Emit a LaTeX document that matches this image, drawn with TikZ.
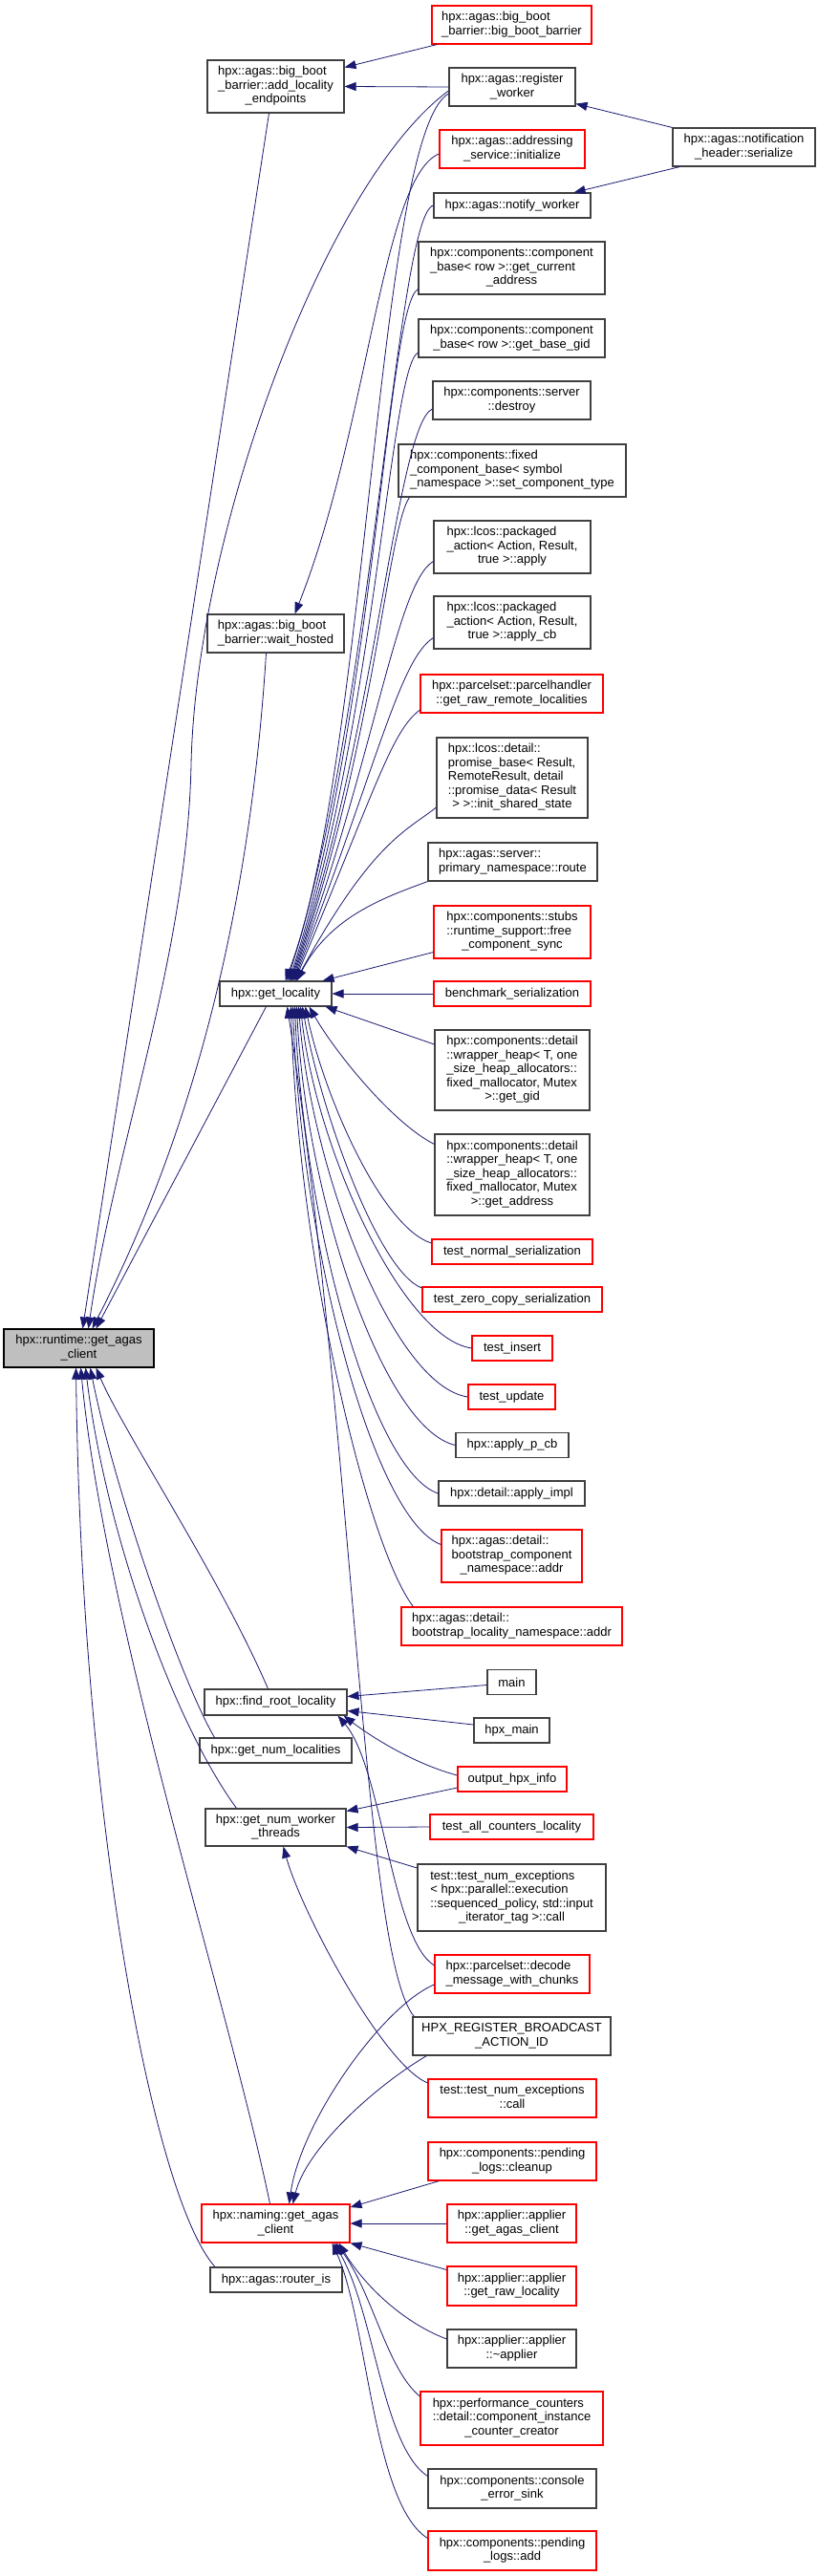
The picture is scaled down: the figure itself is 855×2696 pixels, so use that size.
\documentclass[tikz,border=0pt]{standalone}
\usepackage{fontspec}
\setmainfont{Liberation Sans}
\usetikzlibrary{arrows.meta}
\definecolor{edgec}{HTML}{191970}
\definecolor{boxk}{HTML}{404040}
\definecolor{boxr}{HTML}{FF0000}
\definecolor{mainfill}{HTML}{BFBFBF}
\newcommand\lbl[1]{\begin{tabular}{@{}l@{}}#1\end{tabular}}
\newcommand\cl[1]{\multicolumn{1}{@{}c@{}}{#1}}
\begin{document}
\begin{tikzpicture}[x=1pt,y=-1pt,
  box/.style={draw=boxk, line width=1.1pt, fill=white, inner sep=0pt, font=\fontsize{13}{14.5}\selectfont, anchor=center},
  rbox/.style={box, draw=boxr},
  mbox/.style={box, draw=black, fill=mainfill},
  edge/.style={draw=edgec, line width=0.8pt, -{Triangle[length=12pt,width=9pt]}},
  sz/.style 2 args={minimum width=#1, minimum height=#2}]
\useasboundingbox (0,0) rectangle (855,2696);
% nodes
\node[rbox, sz={167}{40}] (bbb) at (535.5,26) {\lbl{hpx::agas::big\_boot\\\cl{\_barrier::big\_boot\_barrier}}};
\node[box, sz={143}{55}] (ale) at (288.5,90.5) {\lbl{hpx::agas::big\_boot\\\_barrier::add\_locality\\\cl{\_endpoints}}};
\node[box, sz={132}{40}] (rw) at (536,91) {\lbl{hpx::agas::register\\\cl{\_worker}}};
\node[rbox, sz={152}{40}] (addr) at (536,156) {\lbl{hpx::agas::addressing\\\cl{\_service::initialize}}};
\node[box, sz={149}{40}] (nhs) at (778.5,154) {\lbl{hpx::agas::notification\\\cl{\_header::serialize}}};
\node[box, sz={164}{26}] (nw) at (536,215) {hpx::agas::notify\_worker};
\node[box, sz={195}{55}] (cbc) at (535.5,280.5) {\lbl{hpx::components::component\\\_base< row >::get\_current\\\cl{\_address}}};
\node[box, sz={195}{40}] (cbg) at (535.5,354) {\lbl{hpx::components::component\\\cl{\_base< row >::get\_base\_gid}}};
\node[box, sz={165}{40}] (destroy) at (535.5,419) {\lbl{hpx::components::server\\\cl{::destroy}}};
\node[box, sz={238}{55}] (fixed) at (536,492.5) {\lbl{hpx::components::fixed\\\_component\_base< symbol\\\cl{\_namespace >::set\_component\_type}}};
\node[box, sz={164}{55}] (paa) at (536,572.5) {\lbl{hpx::lcos::packaged\\\_action< Action, Result,\\\cl{true >::apply}}};
\node[box, sz={164}{55}] (pacb) at (536,651.5) {\lbl{hpx::lcos::packaged\\\_action< Action, Result,\\\cl{true >::apply\_cb}}};
\node[box, sz={143}{40}] (wh) at (288.5,663) {\lbl{hpx::agas::big\_boot\\\cl{\_barrier::wait\_hosted}}};
\node[rbox, sz={191}{40}] (ph) at (535.5,726) {\lbl{hpx::parcelset::parcelhandler\\\cl{::get\_raw\_remote\_localities}}};
\node[box, sz={158}{84}] (pb) at (536,814) {\lbl{hpx::lcos::detail::\\promise\_base< Result,\\ RemoteResult, detail\\::promise\_data< Result\\\cl{> >::init\_shared\_state}}};
\node[box, sz={177}{40}] (route) at (536.5,902) {\lbl{hpx::agas::server::\\\cl{primary\_namespace::route}}};
\node[rbox, sz={164}{55}] (stubs) at (536,975.5) {\lbl{hpx::components::stubs\\::runtime\_support::free\\\cl{\_component\_sync}}};
\node[rbox, sz={164}{26}] (bench) at (536,1040) {benchmark\_serialization};
\node[box, sz={117}{26}] (gl) at (288.5,1040) {hpx::get\_locality};
\node[box, sz={162}{84}] (whg) at (536,1120) {\lbl{hpx::components::detail\\::wrapper\_heap< T, one\\\_size\_heap\_allocators::\\fixed\_mallocator, Mutex\\\cl{>::get\_gid}}};
\node[box, sz={162}{85}] (wha) at (536,1229.5) {\lbl{hpx::components::detail\\::wrapper\_heap< T, one\\\_size\_heap\_allocators::\\fixed\_mallocator, Mutex\\\cl{>::get\_address}}};
\node[rbox, sz={168}{26}] (tns) at (536,1310) {test\_normal\_serialization};
\node[rbox, sz={188}{26}] (tzc) at (536,1360) {test\_zero\_copy\_serialization};
\node[mbox, sz={157}{40}] (gac) at (82.5,1411) {\lbl{hpx::runtime::get\_agas\\\cl{\_client}}};
\node[rbox, sz={84}{26}] (ti) at (536,1411) {test\_insert};
\node[rbox, sz={91}{26}] (tu) at (535.5,1462) {test\_update};
\node[box, sz={118}{26}] (apc) at (536,1512.5) {hpx::apply\_p\_cb};
\node[box, sz={153}{26}] (ai) at (535.5,1563) {hpx::detail::apply\_impl};
\node[rbox, sz={147}{55}] (bcn) at (535.5,1628.5) {\lbl{hpx::agas::detail::\\bootstrap\_component\\\cl{\_namespace::addr}}};
\node[rbox, sz={231}{40}] (bln) at (535.5,1702) {\lbl{hpx::agas::detail::\\\cl{bootstrap\_locality\_namespace::addr}}};
\node[box, sz={51}{26}] (main) at (535.5,1760.5) {main};
\node[box, sz={149}{27}] (frl) at (288.5,1781.5) {hpx::find\_root\_locality};
\node[box, sz={79}{26}] (hm) at (535.5,1811) {hpx\_main};
\node[box, sz={159}{26}] (gnl) at (288.5,1832) {hpx::get\_num\_localities};
\node[rbox, sz={114}{26}] (ohi) at (536,1862) {output\_hpx\_info};
\node[box, sz={147}{39}] (gnwt) at (288.5,1912.5) {\lbl{hpx::get\_num\_worker\\\cl{\_threads}}};
\node[rbox, sz={171}{26}] (tac) at (535.5,1912) {test\_all\_counters\_locality};
\node[box, sz={197}{70}] (tnet) at (535.5,1986) {\lbl{test::test\_num\_exceptions\\< hpx::parallel::execution\\::sequenced\_policy, std::input\\\cl{\_iterator\_tag >::call}}};
\node[rbox, sz={162}{40}] (dmc) at (536,2066) {\lbl{hpx::parcelset::decode\\\cl{\_message\_with\_chunks}}};
\node[box, sz={207}{40}] (hrb) at (535.5,2131) {\lbl{HPX\_REGISTER\_BROADCAST\\\cl{\_ACTION\_ID}}};
\node[rbox, sz={176}{40}] (tnc) at (536,2196) {\lbl{test::test\_num\_exceptions\\\cl{::call}}};
\node[rbox, sz={176}{40}] (plc) at (536,2262) {\lbl{hpx::components::pending\\\cl{\_logs::cleanup}}};
\node[rbox, sz={155}{40}] (ngac) at (288.5,2327) {\lbl{hpx::naming::get\_agas\\\cl{\_client}}};
\node[rbox, sz={135}{40}] (agac) at (535.5,2327) {\lbl{hpx::applier::applier\\\cl{::get\_agas\_client}}};
\node[box, sz={138}{26}] (ris) at (289,2386) {hpx::agas::router\_is};
\node[rbox, sz={135}{41}] (agrl) at (535.5,2392.5) {\lbl{hpx::applier::applier\\\cl{::get\_raw\_locality}}};
\node[box, sz={135}{40}] (aa) at (535.5,2458) {\lbl{hpx::applier::applier\\\cl{::\textasciitilde applier}}};
\node[rbox, sz={191}{56}] (pcc) at (535.5,2531) {\lbl{hpx::performance\_counters\\::detail::component\_instance\\\cl{\_counter\_creator}}};
\node[box, sz={176}{41}] (ces) at (536,2604.5) {\lbl{hpx::components::console\\\cl{\_error\_sink}}};
\node[rbox, sz={176}{41}] (pla) at (536,2669.5) {\lbl{hpx::components::pending\\\cl{\_logs::add}}};
% edges: top
\draw[edge] ([xshift=6]bbb.south west) -- ([yshift=20]ale.east);
\draw[edge] (rw.west) -- (ale.east);
\draw[edge] (nhs.north west) -- ([yshift=3]rw.south east);
\draw[edge] ([xshift=8]nhs.south west) -- ([xshift=-18]nw.north east);
\draw[edge] ([xshift=-7]ale.south) -- ([xshift=4]gac.north);
\draw[edge] ([yshift=-4]rw.west) .. controls (340,190) and (205,560) .. (200,800) .. controls (196,1000) and (120,1200) .. ([xshift=10]gac.north);
\draw[edge] ([yshift=-7]rw.west) .. controls (395,140) and (385,800) .. ([xshift=10]gl.north);
\draw[edge] ([yshift=-5]addr.west) .. controls (400,185) and (385,450) .. ([xshift=20]wh.north);
\draw[edge] (nw.west) .. controls (415,225) and (390,750) .. ([xshift=12]gl.north);
\draw[edge] ([yshift=-22]cbc.west) .. controls (405,320) and (392,750) .. ([xshift=14]gl.north);
\draw[edge] ([yshift=-15]cbg.west) .. controls (408,385) and (393,760) .. ([xshift=15]gl.north);
\draw[edge] ([yshift=-9]destroy.west) .. controls (415,445) and (393,770) .. ([xshift=16]gl.north);
\draw[edge] ([xshift=12]fixed.south west) .. controls (405,555) and (392,780) .. ([xshift=17]gl.north);
\draw[edge] ([yshift=-15]paa.west) .. controls (415,610) and (393,790) .. ([xshift=18]gl.north);
\draw[edge] ([yshift=-16]pacb.west) .. controls (418,690) and (395,800) .. ([xshift=19]gl.north);
\draw[edge] ([yshift=-17]ph.west) .. controls (410,765) and (395,820) .. ([xshift=20]gl.north);
\draw[edge] ([yshift=-31]pb.west) .. controls (425,870) and (390,880) .. ([xshift=21]gl.north);
\draw[edge] (route.south west) .. controls (400,940) and (345,960) .. ([xshift=22]gl.north);
\draw[edge] ([yshift=-21]stubs.west) -- ([xshift=-10]gl.north east);
\draw[edge] (bench.west) -- (gl.east);
% edges: below get_locality
\draw[edge] ([yshift=27]whg.west) -- ([xshift=-7]gl.south east);
\draw[edge] ([yshift=32]wha.west) .. controls (410,1175) and (350,1100) .. ([xshift=35]gl.south);
\draw[edge] ([yshift=9]tns.west) .. controls (400,1285) and (340,1150) .. ([xshift=31]gl.south);
\draw[edge] ([yshift=12]tzc.west) .. controls (395,1330) and (335,1160) .. ([xshift=28]gl.south);
\draw[edge] (ti.west) .. controls (420,1400) and (330,1200) .. ([xshift=26]gl.south);
\draw[edge] (tu.west) .. controls (410,1450) and (325,1220) .. ([xshift=24]gl.south);
\draw[edge] (apc.west) .. controls (400,1495) and (320,1250) .. ([xshift=22]gl.south);
\draw[edge] (ai.west) .. controls (390,1540) and (318,1280) .. ([xshift=20]gl.south);
\draw[edge] ([yshift=12]bcn.west) .. controls (390,1590) and (315,1300) .. ([xshift=18]gl.south);
\draw[edge] ([xshift=13]bln.north west) .. controls (385,1620) and (312,1320) .. ([xshift=16]gl.south);
\draw[edge] ([xshift=2]hrb.north west) .. controls (380,2050) and (370,1500) .. ([xshift=12]gl.south);
% find_root_locality, get_num_worker_threads
\draw[edge] ([yshift=9]dmc.west) .. controls (410,2030) and (400,1850) .. ([xshift=-10]frl.south east);
\draw[edge] ([yshift=4]ohi.west) .. controls (430,1845) and (385,1815) .. ([xshift=-4]frl.south east);
\draw[edge] ([yshift=-3]main.west) -- ([yshift=6]frl.east);
\draw[edge] ([yshift=6]hm.west) -- ([yshift=-9]frl.east);
\draw[edge] ([yshift=-9]ohi.west) -- ([yshift=17]gnwt.east);
\draw[edge] (tac.west) -- (gnwt.east);
\draw[edge] ([yshift=31]tnet.west) -- (gnwt.south east);
\draw[edge] ([yshift=16]tnc.west) .. controls (400,2160) and (315,2000) .. ([xshift=8]gnwt.south);
% naming::get_agas_client
\draw[edge] ([yshift=-11]dmc.west) .. controls (400,2100) and (315,2220) .. ([xshift=14]ngac.north);
\draw[edge] ([xshift=15]hrb.south west) .. controls (390,2185) and (320,2250) .. ([xshift=18]ngac.north);
\draw[edge] ([xshift=12]plc.south west) -- ([yshift=17]ngac.east);
\draw[edge] (agac.west) -- (ngac.east);
\draw[edge] ([yshift=17]agrl.west) -- (ngac.south east);
\draw[edge] ([yshift=10]aa.west) .. controls (420,2430) and (380,2390) .. ([xshift=-12]ngac.south east);
\draw[edge] ([yshift=23]pcc.west) .. controls (405,2480) and (390,2400) .. ([xshift=-15]ngac.south east);
\draw[edge] ([yshift=13]ces.west) .. controls (400,2560) and (392,2420) .. ([xshift=-17]ngac.south east);
\draw[edge] ([yshift=13]pla.west) .. controls (390,2620) and (385,2430) .. ([xshift=-19]ngac.south east);
% into runtime::get_agas_client
\draw[edge] ([xshift=-10]wh.south) .. controls (265,900) and (220,1150) .. ([xshift=14]gac.north);
\draw[edge] ([xshift=-10]gl.south) -- ([xshift=18]gac.north);
\draw[edge] ([xshift=-8]frl.north) .. controls (230,1650) and (130,1500) .. ([xshift=18]gac.south);
\draw[edge] ([xshift=-64]gnl.north) .. controls (190,1760) and (120,1560) .. ([xshift=12]gac.south);
\draw[edge] ([xshift=-41]gnwt.north) .. controls (180,1800) and (110,1600) .. ([xshift=7]gac.south);
\draw[edge] ([xshift=-6]ngac.north) .. controls (240,2100) and (110,1700) .. ([xshift=2]gac.south);
\draw[edge] ([xshift=-64]ris.north) .. controls (160,2300) and (85,1900) .. ([xshift=-3]gac.south);
\end{tikzpicture}
\end{document}
